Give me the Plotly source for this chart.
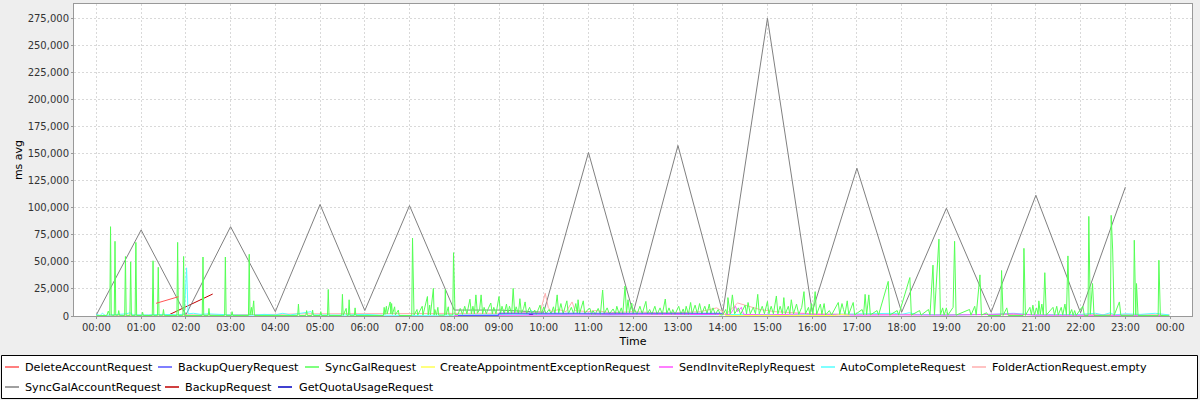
import plotly.graph_objects as go

DAY = "2013-06-10"
X_RANGE = ["2013-06-09 23:30:00", "2013-06-11 00:29:24"]
Y_RANGE = [0, 288200]

SERIES_NAMES = [
    "DeleteAccountRequest", "BackupQueryRequest", "SyncGalRequest",
    "CreateAppointmentExceptionRequest", "SendInviteReplyRequest",
    "AutoCompleteRequest", "FolderActionRequest.empty",
    "SyncGalAccountRequest", "BackupRequest", "GetQuotaUsageRequest",
]
SERIES_COLORS = [
    "#FF5555", "#5555FF", "#55FF55", "#FFFF55", "#FF55FF",
    "#55FFFF", "#FFAFAF", "#808080", "#C00000", "#0000C0",
]

DELETE_ACCOUNT = [("01:20", 11700), ("01:50", 17800)]

BACKUP_QUERY = [("08:05", 500), ("08:59", 500), ("09:00", 2500), ("11:00", 2500),
                ("13:00", 2500), ("14:00", 2500)]

SYNC_GAL = [
    ("00:00", 300), ("00:08", 800), ("00:14", 500), ("00:16", 4500), ("00:18", 600),
    ("00:19", 82500), ("00:20", 800), ("00:24", 600), ("00:25", 69000), ("00:26", 700),
    ("00:29", 800), ("00:30", 5000), ("00:31", 600), ("00:38", 500), ("00:39", 55000),
    ("00:40", 600), ("00:45", 500), ("00:46", 50000), ("00:47", 500), ("00:52", 600),
    ("00:53", 68000), ("00:54", 500), ("01:01", 400), ("01:02", 3500), ("01:03", 400),
    ("01:15", 500), ("01:16", 51000), ("01:17", 500), ("01:22", 600), ("01:23", 45000),
    ("01:24", 700), ("01:29", 600), ("01:30", 6000), ("01:31", 500), ("01:48", 500),
    ("01:49", 68000), ("01:50", 500), ("01:56", 600), ("01:57", 55000), ("01:58", 500),
    ("02:22", 500), ("02:23", 54500), ("02:24", 500), ("02:30", 500), ("02:31", 7000),
    ("02:32", 500), ("02:52", 500), ("02:53", 54500), ("02:54", 500), ("03:01", 500),
    ("03:02", 4000), ("03:03", 500), ("03:24", 500), ("03:25", 57000), ("03:26", 800),
    ("03:28", 8000), ("03:29", 1000), ("03:31", 14000), ("03:32", 500), ("04:30", 500),
    ("04:31", 11000), ("04:32", 500), ("04:41", 500), ("04:42", 5000), ("04:43", 500),
    ("04:49", 500), ("04:50", 5500), ("04:51", 500), ("05:00", 500), ("05:01", 4000),
    ("05:02", 500), ("05:10", 500), ("05:11", 24500), ("05:12", 500), ("05:29", 500),
    ("05:30", 20000), ("05:31", 600), ("05:35", 7000), ("05:36", 600), ("05:38", 600),
    ("05:39", 15000), ("05:40", 600), ("05:46", 600), ("05:47", 7500), ("05:48", 500),
    ("06:25", 500), ("06:26", 8000), ("06:27", 1500), ("06:29", 9000), ("06:30", 2000),
    ("06:34", 13000), ("06:35", 2000), ("06:36", 11500), ("06:37", 1500), ("06:40", 8500),
    ("06:41", 1000), ("06:45", 5500), ("06:46", 500), ("07:03", 500), ("07:04", 72000),
    ("07:05", 15000), ("07:06", 800), ("07:10", 6000), ("07:11", 800), ("07:17", 9000),
    ("07:18", 800), ("07:24", 18000), ("07:25", 1000), ("07:27", 10000), ("07:28", 1000),
    ("07:32", 25500), ("07:33", 800), ("07:34", 6000), ("07:36", 800), ("07:38", 8000),
    ("07:39", 800), ("07:47", 800), ("07:48", 24500), ("07:49", 1000), ("07:52", 8500),
    ("07:53", 800), ("07:58", 1000), ("07:59", 58500), ("08:00", 35000), ("08:01", 1500),
    ("08:05", 1500), ("08:08", 7000), ("08:11", 1500), ("08:14", 9000), ("08:17", 2000),
    ("08:21", 15500), ("08:23", 2000), ("08:25", 9000), ("08:27", 2000), ("08:29", 19500),
    ("08:31", 2500), ("08:34", 6000), ("08:36", 19500), ("08:38", 2000), ("08:40", 8000),
    ("08:43", 2000), ("08:45", 6000), ("08:49", 12000), ("08:51", 2000), ("08:53", 8000),
    ("08:56", 2000), ("09:00", 18000), ("09:02", 2000), ("09:04", 9000), ("09:07", 2000),
    ("09:10", 11000), ("09:12", 2000), ("09:14", 9000), ("09:17", 2000), ("09:19", 25500),
    ("09:21", 2500), ("09:23", 8500), ("09:26", 2000), ("09:28", 16000), ("09:30", 2500),
    ("09:33", 7000), ("09:35", 13000), ("09:37", 2000), ("09:41", 8000), ("09:44", 2000),
    ("09:48", 5500), ("09:50", 1500), ("09:55", 10000), ("09:57", 2000), ("10:00", 8500),
    ("10:03", 2000), ("10:07", 6000), ("10:10", 2000), ("10:13", 8500), ("10:15", 2000),
    ("10:18", 19500), ("10:20", 2500), ("10:23", 11500), ("10:26", 2000), ("10:31", 14000),
    ("10:33", 2000), ("10:37", 8000), ("10:40", 2000), ("10:43", 11500), ("10:45", 2500),
    ("10:46", 15000), ("10:48", 2000), ("10:53", 14000), ("10:55", 2000), ("10:59", 6000),
    ("11:02", 7000), ("11:04", 1500), ("11:06", 5000), ("11:09", 1500), ("11:13", 7000),
    ("11:16", 1500), ("11:19", 24000), ("11:21", 2000), ("11:25", 7500), ("11:28", 2000),
    ("11:33", 6500), ("11:36", 2000), ("11:38", 9000), ("11:41", 2000), ("11:44", 7500),
    ("11:46", 2000), ("11:49", 27700), ("11:51", 3000), ("11:53", 15000), ("11:55", 3000),
    ("11:58", 12000), ("12:00", 2000), ("12:02", 6000), ("12:05", 1500), ("12:09", 9000),
    ("12:12", 2000), ("12:17", 13500), ("12:19", 2000), ("12:22", 6000), ("12:25", 1500),
    ("12:29", 9000), ("12:32", 1500), ("12:36", 7500), ("12:39", 1500), ("12:43", 15700),
    ("12:45", 2000), ("12:48", 7500), ("12:51", 1500), ("12:53", 6000), ("12:56", 1500),
    ("13:01", 9000), ("13:04", 1500), ("13:07", 6500), ("13:09", 1500), ("13:11", 9000),
    ("13:14", 1500), ("13:17", 12500), ("13:19", 2000), ("13:23", 10000), ("13:26", 2000),
    ("13:29", 11500), ("13:32", 2000), ("13:36", 9000), ("13:39", 2000), ("13:42", 11000),
    ("13:44", 2000), ("13:47", 7500), ("13:50", 1500), ("13:54", 6000), ("13:57", 1000),
    ("14:00", 1000), ("14:04", 6000), ("14:06", 1500), ("14:07", 17000), ("14:10", 2000),
    ("14:13", 19500), ("14:16", 2000), ("14:21", 7500), ("14:24", 1500), ("14:30", 10000),
    ("14:32", 2000), ("14:34", 12500), ("14:37", 2000), ("14:41", 8000), ("14:44", 2000),
    ("14:47", 20000), ("14:49", 2000), ("14:53", 9000), ("14:56", 2000), ("15:00", 13500),
    ("15:02", 2000), ("15:05", 9000), ("15:08", 2000), ("15:12", 18500), ("15:14", 2000),
    ("15:17", 9000), ("15:20", 2000), ("15:22", 17000), ("15:24", 2000), ("15:28", 9000),
    ("15:30", 2000), ("15:32", 15000), ("15:35", 2000), ("15:39", 11000), ("15:42", 1500),
    ("15:46", 8000), ("15:49", 22500), ("15:51", 2000), ("15:55", 8000), ("15:57", 1500),
    ("15:59", 11500), ("16:01", 1500), ("16:04", 22500), ("16:06", 1500), ("16:11", 11000),
    ("16:13", 1500), ("16:16", 11500), ("16:18", 1000), ("16:23", 5000), ("16:26", 1000),
    ("16:35", 12500), ("16:37", 1500), ("16:40", 11500), ("16:42", 6000), ("16:44", 1500),
    ("16:47", 14000), ("16:49", 1500), ("16:55", 12500), ("16:57", 1000), ("17:07", 6000),
    ("17:09", 1000), ("17:11", 20000), ("17:13", 1000), ("17:16", 19500), ("17:18", 1000),
    ("17:27", 5000), ("17:29", 800), ("17:42", 32000), ("17:44", 800), ("17:54", 5000),
    ("17:56", 800), ("18:11", 35500), ("18:13", 800), ("18:24", 5000), ("18:26", 800),
    ("18:36", 6000), ("18:38", 800), ("18:42", 47000), ("18:44", 800), ("18:50", 71000),
    ("18:52", 1000), ("18:55", 7500), ("18:57", 800), ("19:00", 7500), ("19:02", 800),
    ("19:09", 8000), ("19:11", 69000), ("19:13", 800), ("19:31", 6000), ("19:33", 800),
    ("19:38", 9000), ("19:40", 800), ("19:45", 38000), ("19:47", 800), ("19:54", 3000),
    ("19:56", 500), ("20:13", 500), ("20:14", 42000), ("20:16", 500), ("20:21", 7500),
    ("20:23", 500), ("20:43", 500), ("20:44", 62500), ("20:46", 500), ("20:52", 8000),
    ("20:54", 1000), ("20:56", 10000), ("20:58", 1000), ("21:01", 7500), ("21:03", 1500),
    ("21:04", 14000), ("21:06", 1500), ("21:08", 11000), ("21:10", 1000), ("21:12", 40000),
    ("21:14", 800), ("21:23", 8000), ("21:25", 800), ("21:28", 9000), ("21:30", 800),
    ("21:34", 8000), ("21:36", 800), ("21:39", 11000), ("21:41", 800), ("21:43", 55500),
    ("21:45", 800), ("21:48", 6000), ("21:50", 500), ("21:52", 5000), ("21:54", 500),
    ("22:03", 9000), ("22:05", 500), ("22:10", 500), ("22:11", 92000), ("22:13", 1500),
    ("22:16", 30000), ("22:18", 500), ("22:40", 600), ("22:41", 93000), ("22:43", 61000),
    ("22:45", 600), ("22:52", 13000), ("22:54", 500), ("23:11", 600), ("23:12", 70000),
    ("23:14", 800), ("23:15", 30000), ("23:17", 500), ("23:44", 500), ("23:45", 51500),
    ("23:47", 500), ("23:59", 300),
]

CREATE_APPT_EXCEPTION = [("13:55", 500), ("14:00", 3000), ("14:04", 500),
                         ("16:30", 500), ("16:40", 1500), ("16:50", 500)]

SEND_INVITE_REPLY = [
    ("08:00", 500), ("10:00", 800), ("12:00", 600), ("13:50", 1000), ("14:10", 1500),
    ("14:17", 9000), ("14:20", 4000), ("14:25", 8000), ("14:28", 1500), ("15:00", 1000),
    ("15:50", 2000), ("16:00", 1500), ("17:00", 800), ("18:00", 1000), ("19:00", 800),
    ("20:00", 1500), ("20:30", 2000), ("21:00", 800), ("22:00", 600), ("23:00", 500),
    ("23:50", 500),
]

AUTO_COMPLETE = [
    ("00:00", 1500), ("00:05", 500), ("00:08", 2500), ("00:12", 500), ("00:20", 1000),
    ("00:40", 2000), ("00:45", 3000), ("00:50", 1000), ("01:10", 1000), ("01:30", 1500),
    ("01:50", 1000), ("01:58", 2000), ("02:01", 44500), ("02:03", 2000), ("02:10", 2500),
    ("02:20", 1500), ("02:30", 2000), ("02:45", 1500), ("03:00", 1000), ("03:30", 800),
    ("03:45", 1500), ("04:00", 1000), ("04:10", 2500), ("04:20", 1000), ("04:48", 4000),
    ("04:52", 1000), ("05:30", 800), ("06:00", 1500), ("06:20", 800), ("07:00", 500),
    ("08:00", 1000), ("09:00", 1500), ("09:40", 1500), ("09:43", 5500), ("09:46", 1500),
    ("10:30", 1500), ("11:30", 1000), ("12:30", 1500), ("13:30", 1000), ("14:30", 1500),
    ("15:30", 1000), ("16:30", 1500), ("17:30", 2000), ("17:50", 2500), ("18:00", 1500),
    ("18:10", 3000), ("18:20", 1500), ("19:00", 1000), ("20:00", 1500), ("20:30", 2500),
    ("21:00", 1000), ("22:00", 1500), ("22:20", 2500), ("22:30", 1000), ("22:40", 3000),
    ("22:45", 1000), ("23:00", 2000), ("23:20", 1500), ("23:40", 2500), ("23:50", 1500),
    ("23:59", 1000),
]

FOLDER_ACTION_EMPTY = [
    ("00:00", 500), ("00:30", 1000), ("01:00", 800), ("02:00", 1000), ("03:00", 1000),
    ("03:30", 1500), ("04:00", 1500), ("04:30", 2000), ("05:00", 2000), ("06:00", 2500),
    ("07:00", 2500), ("08:00", 2000), ("09:00", 2500), ("09:30", 3000), ("09:55", 3000),
    ("10:02", 21000), ("10:06", 8000), ("10:10", 4000), ("10:20", 6000), ("10:30", 4000),
    ("10:38", 13000), ("10:42", 5000), ("11:00", 4000), ("11:10", 5000), ("11:30", 3000),
    ("12:00", 4000), ("12:30", 3000), ("13:00", 3000), ("13:30", 4000), ("13:52", 7500),
    ("14:00", 4000), ("14:05", 2000), ("14:20", 12000), ("14:50", 6000), ("15:10", 4000),
    ("16:00", 2000), ("17:00", 1500), ("18:00", 1500), ("19:00", 1000), ("20:00", 1500),
    ("21:00", 1000), ("22:00", 1500), ("23:00", 1000), ("23:59", 1000),
]

SYNC_GAL_ACCOUNT = [
    ("00:00", 1000), ("01:00", 79500), ("02:00", 1000), ("03:00", 82500), ("04:00", 4000),
    ("05:00", 103000), ("06:00", 5000), ("07:00", 102000), ("08:00", 5500), ("09:00", 5500),
    ("10:00", 3500), ("11:00", 151000), ("12:00", 3000), ("13:00", 157500), ("14:00", 3000),
    ("15:00", 275000), ("16:00", 4000), ("17:00", 136500), ("18:00", 3500), ("19:00", 99500),
    ("20:00", 3500), ("21:00", 111500), ("22:00", 3000), ("23:00", 119000),
]

BACKUP = [("01:34", 0), ("02:36", 20300)]

GET_QUOTA_USAGE = [("08:05", 200), ("08:59", 200), ("09:00", 1500), ("14:00", 1500)]

SERIES_DATA = [
    DELETE_ACCOUNT, BACKUP_QUERY, SYNC_GAL, CREATE_APPT_EXCEPTION, SEND_INVITE_REPLY,
    AUTO_COMPLETE, FOLDER_ACTION_EMPTY, SYNC_GAL_ACCOUNT, BACKUP, GET_QUOTA_USAGE,
]

# Legend rows (manual legend, JFreeChart style)
LEGEND_ROWS = [
    [0, 1, 2, 3, 4, 5, 6],
    [7, 8, 9],
]

FONT = "DejaVu Sans"
W, H = 1200, 400
PL, PR, PT, PB = 74, 1192, 4, 316  # plot area in pixels


def px_x(px):
    return (px - PL) / (PR - PL)


def px_y(py):
    return (PB - py) / (PB - PT)


fig = go.Figure()

# JFreeChart draws series in reverse order: first series on top
for idx in reversed(range(len(SERIES_NAMES))):
    pts = SERIES_DATA[idx]
    fig.add_trace(go.Scatter(
        x=[DAY + " " + t for t, _ in pts],
        y=[v for _, v in pts],
        mode="lines",
        name=SERIES_NAMES[idx],
        line=dict(color=SERIES_COLORS[idx], width=1),
        showlegend=False,
    ))

# Manual legend
shapes = [dict(type="rect", xref="paper", yref="paper",
               x0=px_x(1.5), x1=px_x(1197.5), y0=px_y(355.5), y1=px_y(398.5),
               line=dict(color="#000000", width=1), fillcolor="white", layer="below")]
annotations = []
legend_line_x = [[5, 158, 305, 421, 659, 821, 972], [5, 165, 278]]
legend_text_x = [[23, 176, 323, 438, 677, 838, 990], [23, 183, 297]]
row_y = [367, 387]
for r, row in enumerate(LEGEND_ROWS):
    for k, idx in enumerate(row):
        lx = legend_line_x[r][k]
        shapes.append(dict(type="line", xref="paper", yref="paper",
                           x0=px_x(lx), x1=px_x(lx + 14), y0=px_y(row_y[r]), y1=px_y(row_y[r]),
                           line=dict(color=SERIES_COLORS[idx], width=1.5)))
        annotations.append(dict(xref="paper", yref="paper", x=px_x(legend_text_x[r][k]),
                                y=px_y(row_y[r]), text=SERIES_NAMES[idx], showarrow=False,
                                xanchor="left", yanchor="middle",
                                font=dict(family=FONT, size=11.2, color="#000000")))

axis_common = dict(
    showgrid=True, gridcolor="#D9D9D9", griddash="2px,2px", gridwidth=1,
    showline=True, linecolor="#999999", linewidth=1, mirror=True,
    ticks="outside", ticklen=2, tickcolor="#999999", zeroline=False,
    tickfont=dict(family=FONT, size=10, color="#333333"),
    automargin=False,
)

fig.update_layout(
    width=W, height=H,
    margin=dict(l=PL, r=W - PR, t=PT, b=H - PB),
    paper_bgcolor="#EEEEEE", plot_bgcolor="#FFFFFF",
    font=dict(family=FONT, size=11, color="#000000"),
    xaxis=dict(type="date", range=X_RANGE, dtick=3600000, tickformat="%H:%M",
               title=dict(text="Time", font=dict(family=FONT, size=11, color="#000000"), standoff=5),
               **axis_common),
    yaxis=dict(range=Y_RANGE, dtick=25000, tick0=0, tickformat=",d",
               title=dict(text="ms avg", font=dict(family=FONT, size=11, color="#000000"), standoff=2),
               **axis_common),
    shapes=shapes,
    annotations=annotations,
    showlegend=False,
    hovermode=False,
)

fig.write_html(
    "out.html",
    config={"displayModeBar": False},
    post_script="document.body.style.margin='0';document.body.style.overflow='hidden';",
)
